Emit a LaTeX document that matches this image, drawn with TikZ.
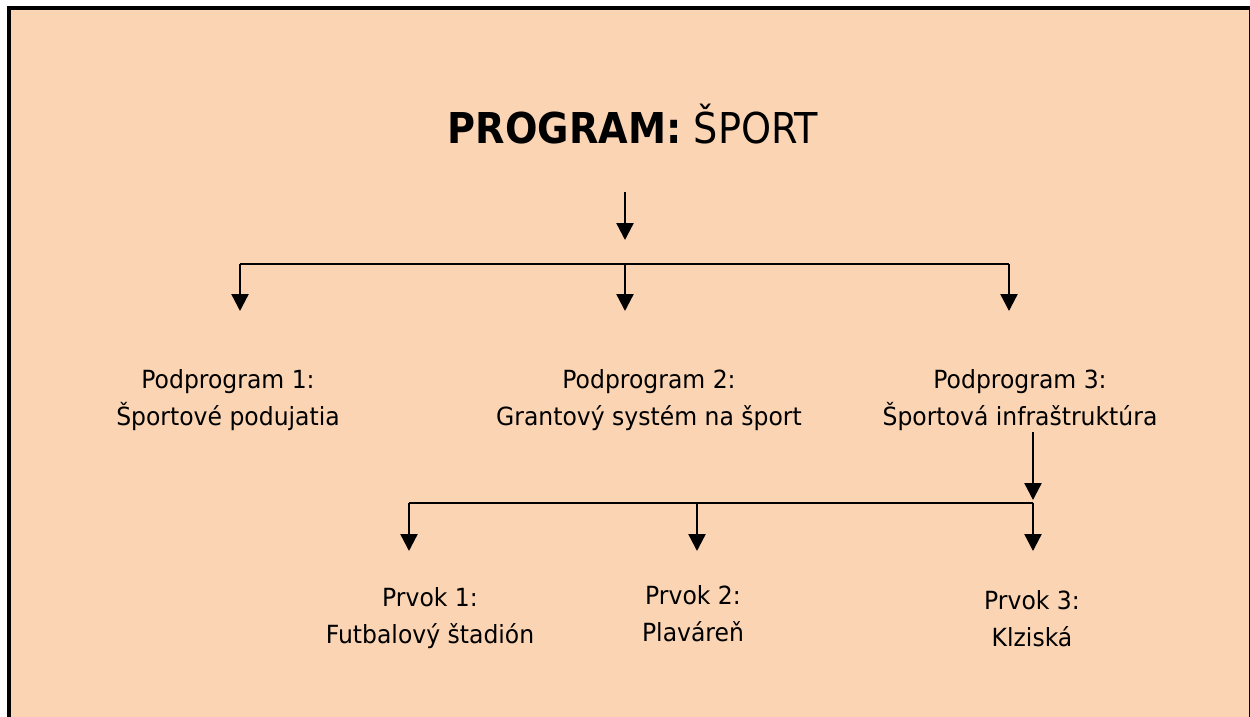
\documentclass[tikz,border=0pt]{standalone}
\usepackage{fontspec}
\setmainfont[FakeStretch=0.94]{DejaVu Sans}
\newfontfamily\titlefont{DejaVu Sans Condensed}
\usetikzlibrary{arrows.meta}
\definecolor{peach}{HTML}{FBD4B4}
\tikzset{
  conn/.style={line width=2.4pt, black},
  arr/.style={conn, -{Triangle[width=17pt,length=17pt]}},
  lbl/.style={align=center, inner sep=0pt, font=\fontsize{25}{36.5}\selectfont},
}
\begin{document}
\begin{tikzpicture}[x=1pt,y=1pt]
  \useasboundingbox (0,0) rectangle (1250,-717);
  % page and frame
  \fill[white] (0,0) rectangle (1250,-717);
  \fill[peach] (9,-8) rectangle (1250,-717);
  \draw[line width=4pt] (9,-717) -- (9,-8) -- (1250,-8);
  \draw[line width=1.2pt] (1249.4,-8) -- (1249.4,-717);

  % title
  \node[inner sep=0pt, anchor=base, font=\titlefont\fontsize{42.5}{50}\selectfont] (title) at (633,-143)
    {\textbf{PROGRAM:} ŠPORT};

  % first level
  \coordinate (t0) at (625,-192);
  \coordinate (t1) at (625,-240);
  \coordinate (b1l) at (240,-264);
  \coordinate (b1m) at (625,-264);
  \coordinate (b1r) at (1009,-264);
  \coordinate (d1) at (240,-311);
  \coordinate (d2) at (625,-311);
  \coordinate (d3) at (1009,-311);
  \draw[arr] (t0) -- (t1);
  \draw[conn] (b1l) -- (b1r);
  \draw[arr] (b1l) -- (d1);
  \draw[arr] (b1m) -- (d2);
  \draw[arr] (b1r) -- (d3);

  % labels: the base anchor sits on the last line
  \node[lbl, anchor=base] (p1) at (228,-425) {Podprogram 1:\\Športové podujatia};
  \node[lbl, anchor=base] (p2) at (649,-425) {Podprogram 2:\\Grantový systém na šport};
  \node[lbl, anchor=base] (p3) at (1020,-425) {Podprogram 3:\\Športová infraštruktúra};

  % second level
  \coordinate (s0) at (1033,-432);
  \coordinate (s1) at (1033,-500);
  \coordinate (b2l) at (409,-503);
  \coordinate (b2m) at (697,-503);
  \coordinate (b2r) at (1033,-503);
  \coordinate (e1) at (409,-551);
  \coordinate (e2) at (697,-551);
  \coordinate (e3) at (1033,-551);
  \draw[arr] (s0) -- (s1);
  \draw[conn] (b2l) -- (b2r);
  \draw[arr] (b2l) -- (e1);
  \draw[arr] (b2m) -- (e2);
  \draw[arr] (b2r) -- (e3);

  \node[lbl, anchor=base] (r1) at (430,-643) {Prvok 1:\\Futbalový štadión};
  \node[lbl, anchor=base] (r2) at (693,-641) {Prvok 2:\\Plaváreň};
  \node[lbl, anchor=base] (r3) at (1032,-646) {Prvok 3:\\Klziská};
\end{tikzpicture}
\end{document}
